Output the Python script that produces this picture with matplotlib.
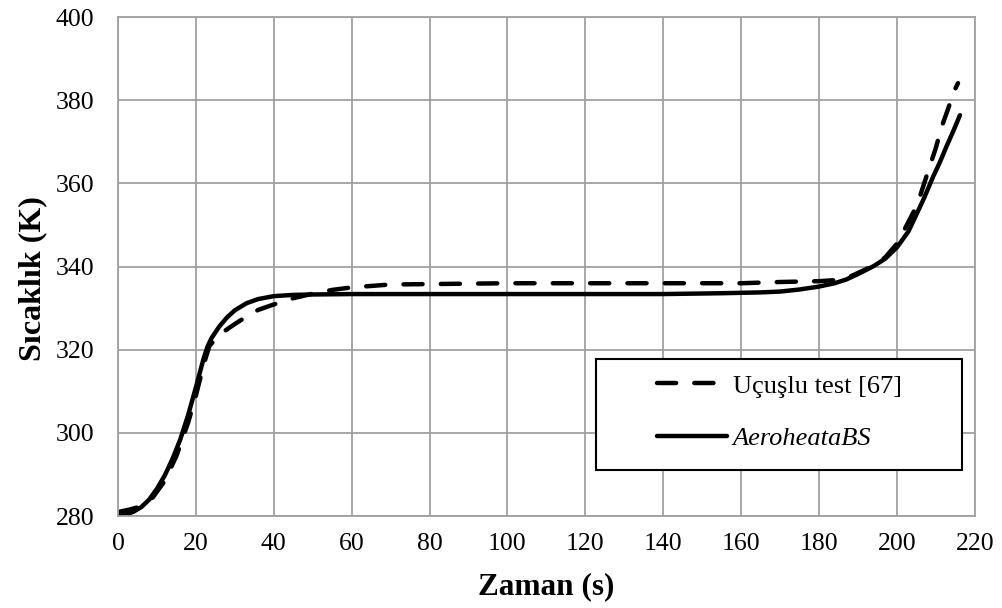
import matplotlib
matplotlib.use('Agg')
import matplotlib.pyplot as plt
from matplotlib.patches import Rectangle

plt.rcParams['font.family'] = ['Liberation Serif', 'DejaVu Serif']

# Uçuşlu test [67]
test_t = [0, 3, 6, 9, 12, 15, 18, 20, 22, 23.5, 25, 27.5, 30, 33, 36, 40, 45, 50,
          55, 60, 70, 80, 100, 120, 140, 160, 170, 180, 185, 188, 191, 194, 197,
          200, 202, 205.2, 208.3, 210, 211.5, 213, 214.7, 215.7]
test_k = [281.0, 281.6, 282.4, 284.6, 288.5, 294.5, 302.5, 309.0, 316.5, 321.0,
          322.5, 324.6, 326.2, 328.0, 329.6, 330.9, 332.4, 333.5, 334.4, 335.0,
          335.7, 335.8, 336.0, 336.0, 336.0, 336.0, 336.3, 336.5, 336.8, 337.6,
          338.9, 340.2, 342.2, 345.5, 349.0, 354.8, 363.7, 368.5, 373.6, 377.5,
          382.2, 384.1]

# AeroheataBS
model_t = [0, 2, 4, 6, 8, 10, 12, 14, 16, 18, 20, 22, 23, 24, 26, 28, 30, 33, 36,
           40, 45, 50, 60, 80, 100, 120, 140, 155, 165, 170, 175, 180, 184, 187,
           190, 194, 197, 200, 203, 205, 207, 209.3, 211, 212.7, 214.5, 216.2]
model_k = [280.0, 280.4, 281.1, 282.2, 284.0, 286.6, 289.8, 293.8, 298.5, 304.3,
           311.0, 318.0, 320.8, 322.8, 325.6, 327.8, 329.5, 331.2, 332.2, 332.9,
           333.2, 333.3, 333.4, 333.4, 333.4, 333.4, 333.4, 333.6, 333.8, 334.0,
           334.5, 335.2, 336.0, 336.9, 338.2, 340.1, 341.9, 344.6, 348.5, 352.5,
           356.5, 361.6, 365.0, 368.8, 372.6, 376.4]

fig = plt.figure(figsize=(10.02, 6.08), dpi=100)
ax = fig.add_axes([0.1178, 0.151, 0.855, 0.821])

ax.plot(test_t, test_k, color='black', lw=3.2, ls=(0, (4.3, 4.1)),
        label='Uçuşlu test [67]', dash_capstyle='round', solid_joinstyle='round')
ax.plot(model_t, model_k, color='black', lw=3.2, label='AeroheataBS',
        solid_capstyle='round', solid_joinstyle='round')

ax.set_xlim(0, 220)
ax.set_ylim(280, 400)
ax.set_xticks(range(0, 221, 20))
ax.set_yticks(range(280, 401, 20))
ax.grid(True, color='#a0a0a0', lw=1.3)
ax.set_axisbelow(True)
for s in ax.spines.values():
    s.set_color('#a0a0a0')
    s.set_linewidth(1.3)
ax.tick_params(axis='both', length=0, labelsize=18.5)
ax.tick_params(axis='x', pad=12)
ax.tick_params(axis='y', pad=17)

ax.set_xlabel('Zaman (s)', fontsize=22.5, fontweight='bold')
ax.set_ylabel('Sıcaklık (K)', fontsize=23, fontweight='bold')
ax.xaxis.set_label_coords(0.5, -0.113)
ax.yaxis.set_label_coords(-0.083, 0.477)

# legend box drawn separately so the entries sit where they do in the original
ax.add_patch(Rectangle((0.5578, 0.0922), 0.427, 0.2224, transform=ax.transAxes,
                       facecolor='white', edgecolor='black', lw=1.5, zorder=5))
leg = ax.legend(loc='upper left', bbox_to_anchor=(0.629, 0.2846), fontsize=19,
                handlelength=2.65, handletextpad=0.23, labelspacing=1.1,
                borderpad=0, borderaxespad=0, frameon=False)
leg.set_zorder(6)
leg.get_texts()[1].set_fontstyle('italic')

fig.savefig('out.png', dpi=100)
